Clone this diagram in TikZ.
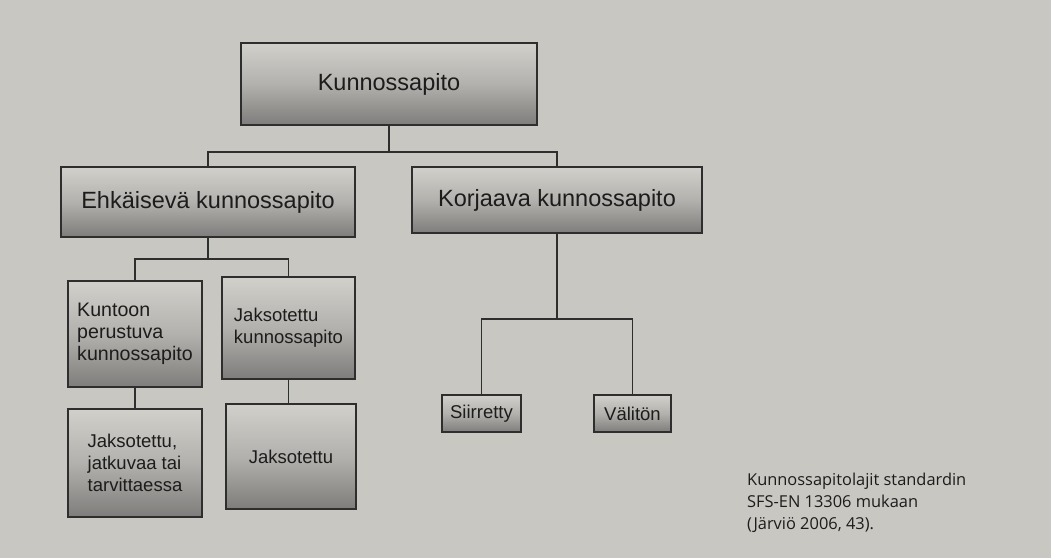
\documentclass[tikz,border=0pt]{standalone}
\usepackage{fontspec}
\setmainfont{Liberation Sans}
\newfontfamily\capfont{Open Sans}
\begin{document}
\begin{tikzpicture}[x=1pt,y=-1pt,
  every node/.style={text=txt},
  boxbase/.style={draw=edge, line width=1.3pt, top color=boxtop, bottom color=boxbot, middle color=boxmid, inner sep=0pt, anchor=center},
  bigbox/.style={boxbase, font=\fontsize{23.5}{27}\selectfont},
  smallbox/.style={boxbase, font=\fontsize{18.5}{22}\selectfont, align=left},
  conn/.style={draw=edge, line width=1.3pt}
]
\definecolor{bg}{HTML}{C9C7C2}
\definecolor{boxtop}{HTML}{D2D0CB}
\definecolor{boxmid}{HTML}{B3B1AD}
\definecolor{boxbot}{HTML}{7E7D7B}
\definecolor{edge}{HTML}{2E2E2E}
\definecolor{txt}{HTML}{1C1C1C}
\useasboundingbox (0,0) rectangle (1051,558);
\fill[bg] (0,0) rectangle (1051,558);

\node[bigbox, minimum width=296, minimum height=82] (kun) at (389,84) {Kunnossapito};
\node[bigbox, minimum width=294, minimum height=70] (ehk) at (208,202) {Ehkäisevä kunnossapito};
\node[bigbox, minimum width=290, minimum height=66] (kor) at (557,200) {Korjaava kunnossapito};

\node[smallbox, font=\fontsize{19.6}{22}\selectfont, minimum width=134, minimum height=106] (kpt) at (135,334) {Kuntoon\\perustuva\\kunnossapito};
\node[smallbox, minimum width=133, minimum height=102] (jkp) at (288.5,328) {Jaksotettu\\kunnossapito};
\node[smallbox, minimum width=134, minimum height=108] (jjt) at (135,463) {Jaksotettu,\\jatkuvaa tai\\tarvittaessa};
\node[smallbox, minimum width=130, minimum height=105] (jak) at (291,456.5) {Jaksotettu};
\node[smallbox, minimum width=79, minimum height=37] (sii) at (481.5,413.5) {Siirretty};
\node[smallbox, minimum width=77, minimum height=37] (val) at (632.5,413.5) {Välitön};

\coordinate (bus1) at (0,152);
\coordinate (bus2) at (0,259);
\coordinate (bus3) at (0,319);

\draw[conn] (kun.south) -- (kun.south |- bus1);
\draw[conn] (ehk.north) -- (ehk.north |- bus1) -- (kor.north |- bus1) -- (kor.north);
\draw[conn] (ehk.south) -- (ehk.south |- bus2);
\draw[conn] (kpt.north) -- (kpt.north |- bus2) -- (jkp.north |- bus2) -- (jkp.north);
\draw[conn] (kpt.south) -- (jjt.north);
\draw[conn] (jkp.south) -- (jkp.south |- jak.north);
\draw[conn] (kor.south) -- (kor.south |- bus3);
\draw[conn] (sii.north) -- (sii.north |- bus3) -- (val.north |- bus3) -- (val.north);

\node[anchor=north west, align=left, inner sep=0pt, font=\capfont\fontsize{16.4}{21.7}\selectfont] (cap) at (747,473) {Kunnossapitolajit standardin\\SFS-EN 13306 mukaan\\(Järviö 2006, 43).};
\end{tikzpicture}
\end{document}
